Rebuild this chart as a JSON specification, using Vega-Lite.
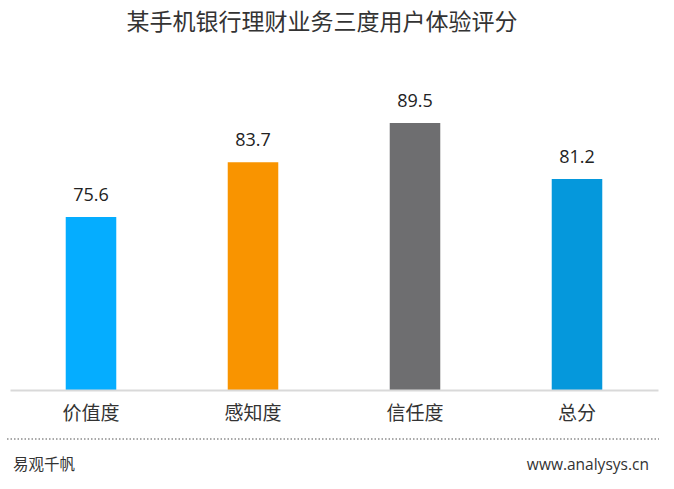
{
  "$schema": "https://vega.github.io/schema/vega-lite/v6.json",
  "width": 648,
  "height": 338,
  "autosize": "none",
  "padding": {"left": 10, "top": 52, "right": 16, "bottom": 99},
  "background": "white",
  "config": {"view": {"stroke": null}},
  "title": {
    "text": "某手机银行理财业务三度用户体验评分",
    "font": "Noto Sans CJK SC",
    "fontSize": 23,
    "fontWeight": "normal",
    "color": "#333333",
    "anchor": "middle",
    "dx": -12,
    "offset": 17
  },
  "datasets": {
    "scores": [
      {"category": "价值度", "score": 75.6, "base": 50},
      {"category": "感知度", "score": 83.7, "base": 50},
      {"category": "信任度", "score": 89.5, "base": 50},
      {"category": "总分", "score": 81.2, "base": 50}
    ],
    "footer": [
      {"label": "易观千帆", "pos": 0.45, "level": 38.9, "side": "left"},
      {"label": "www.analysys.cn", "pos": 98.6, "level": 38.9, "side": "right"}
    ],
    "divider": [
      {"start": -0.46, "end": 100.15, "level": 42.75}
    ]
  },
  "layer": [
    {
      "data": {"name": "scores"},
      "encoding": {
        "x": {
          "field": "category",
          "type": "nominal",
          "sort": null,
          "scale": {"paddingInner": 0.688, "paddingOuter": 0.344},
          "axis": {
            "title": null,
            "labelAngle": 0,
            "labelFont": "Noto Sans CJK SC",
            "labelFontSize": 19,
            "labelColor": "#333333",
            "labelPadding": 14,
            "ticks": false,
            "domainColor": "#d9d9d9",
            "domainWidth": 2,
            "zindex": 1
          }
        },
        "y": {
          "field": "score",
          "type": "quantitative",
          "scale": {"domain": [50, 100], "zero": false, "nice": false},
          "axis": null
        }
      },
      "layer": [
        {
          "mark": {"type": "bar"},
          "encoding": {
            "y2": {"field": "base"},
            "color": {
              "field": "category",
              "type": "nominal",
              "sort": null,
              "scale": {
                "domain": ["价值度", "感知度", "信任度", "总分"],
                "range": ["#05adff", "#f99400", "#6e6e70", "#0598dc"]
              },
              "legend": null
            }
          }
        },
        {
          "mark": {
            "type": "text",
            "baseline": "alphabetic",
            "dy": -16,
            "font": "Open Sans",
            "fontSize": 18,
            "color": "#222222"
          },
          "encoding": {
            "text": {"field": "score", "type": "quantitative", "format": ".1f"}
          }
        }
      ]
    },
    {
      "encoding": {},
      "layer": [
        {
          "data": {"name": "divider"},
          "mark": {"type": "rule", "color": "#8c8c8c", "strokeDash": [1.5, 2], "strokeWidth": 1.5},
          "encoding": {
            "x": {"field": "start", "type": "quantitative", "scale": {"domain": [0, 100], "nice": false, "zero": false}, "axis": null},
            "x2": {"field": "end"},
            "y": {"field": "level", "type": "quantitative"}
          }
        },
        {
          "data": {"name": "footer"},
          "transform": [{"filter": "datum.side === 'left'"}],
          "mark": {"type": "text", "align": "left", "baseline": "middle", "font": "Noto Sans CJK SC", "fontSize": 15.5, "color": "#333333"},
          "encoding": {
            "x": {"field": "pos", "type": "quantitative"},
            "y": {"field": "level", "type": "quantitative"},
            "text": {"field": "label"}
          }
        },
        {
          "data": {"name": "footer"},
          "transform": [{"filter": "datum.side === 'right'"}],
          "mark": {"type": "text", "align": "right", "baseline": "middle", "font": "Open Sans", "fontSize": 15.5, "color": "#333333"},
          "encoding": {
            "x": {"field": "pos", "type": "quantitative"},
            "y": {"field": "level", "type": "quantitative"},
            "text": {"field": "label"}
          }
        }
      ]
    }
  ],
  "resolve": {"scale": {"x": "independent"}, "axis": {"x": "independent"}}
}
